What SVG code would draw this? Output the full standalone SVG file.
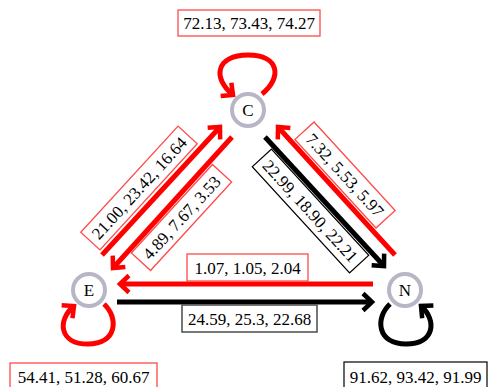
<svg xmlns="http://www.w3.org/2000/svg" width="489" height="387" viewBox="0 0 489 387">
<style>
.e{fill:none;stroke-width:5}
.r{stroke:#ff0000}
.k{stroke:#000}
.n circle{fill:#fff;stroke:#b6b6c6;stroke-width:4}
text{font-family:"Liberation Serif","Times New Roman",serif;font-size:17px;fill:#000;text-anchor:middle}
.br{fill:#fff;stroke:#ff4a4a;stroke-width:1.3}
.bk{fill:#fff;stroke:#000;stroke-width:1.2}
.bg{fill:#fff;stroke:#555;stroke-width:1.6}
</style>
<defs>
<marker id="mr" markerUnits="userSpaceOnUse" markerWidth="24" markerHeight="24" refX="0" refY="0" orient="auto" overflow="visible"><path d="M-9,-8.5 L0,0 L-9,8.5" fill="none" stroke="#ff0000" stroke-width="4.5"/></marker>
<marker id="mk" markerUnits="userSpaceOnUse" markerWidth="24" markerHeight="24" refX="0" refY="0" orient="auto" overflow="visible"><path d="M-9,-8.5 L0,0 L-9,8.5" fill="none" stroke="#000" stroke-width="4.5"/></marker>
</defs>
<g id="connectors">
<path class="e r" d="M102,255 L220,127" marker-end="url(#mr)"/>
<path class="e r" d="M232,137 L113,268" marker-end="url(#mr)"/>
<path class="e k" d="M265,137 L384,266" marker-end="url(#mk)"/>
<path class="e r" d="M395,255 L278,127" marker-end="url(#mr)"/>
<path class="e r" d="M373,284 L120,284" marker-end="url(#mr)"/>
<path class="e k" d="M117,302 L372,302" marker-end="url(#mk)"/>
<path class="e r" d="M262,94 C282,78 280,55 248,55 C216,55 212,78 233,95" marker-end="url(#mr)"/>
<path class="e r" d="M104,304 C119,318 117,344 88,344 C59,344 57,320 74,306" marker-end="url(#mr)"/>
<path class="e k" d="M390,304 C375,318 377,344 406,344 C435,344 437,320 421,306" marker-end="url(#mk)"/>
</g>
<g id="labels">
<g id="lbl-cc"><rect class="br" x="178" y="10" width="142" height="26"/><text x="249" y="29">72.13, 73.43, 74.27</text></g>
<g id="lbl-ee"><rect class="br" x="10" y="363" width="147" height="30"/><text x="83.5" y="383">54.41, 51.28, 60.67</text></g>
<g id="lbl-nn"><rect class="bk" x="344" y="362" width="143" height="30"/><text x="415.5" y="383">91.62, 93.42, 91.99</text></g>
<g id="lbl-ne"><rect class="br" x="187" y="254" width="121" height="27"/><text x="247.5" y="274">1.07, 1.05, 2.04</text></g>
<g id="lbl-en"><rect class="bg" x="182" y="305" width="135" height="27"/><text x="249.5" y="325">24.59, 25.3, 22.68</text></g>
<g id="lbl-ec" transform="translate(139,188) rotate(-47.5)"><rect class="br" x="-72" y="-13" width="144" height="26"/><text x="0" y="6">21.00, 23.42, 16.64</text></g>
<g id="lbl-ce" transform="translate(181.5,217.5) rotate(-47.5)"><rect class="br" x="-60" y="-13" width="120" height="26"/><text x="0" y="6">4.89, 7.67, 3.53</text></g>
<g id="lbl-cn" transform="translate(310.5,211) rotate(47.5)"><rect class="bk" x="-72" y="-13" width="144" height="26"/><text x="0" y="6">22.99, 18.90, 22.21</text></g>
<g id="lbl-nc" transform="translate(345,175) rotate(47.5)"><rect class="br" x="-60" y="-13" width="120" height="26"/><text x="0" y="6">7.32, 5.53, 5.97</text></g>
</g>
<g id="node-C" class="n"><circle cx="248" cy="110" r="16"/><text x="248" y="116">C</text></g>
<g id="node-E" class="n"><circle cx="89" cy="290" r="16"/><text x="89" y="296">E</text></g>
<g id="node-N" class="n"><circle cx="405" cy="290" r="16"/><text x="405" y="296">N</text></g>
</svg>
